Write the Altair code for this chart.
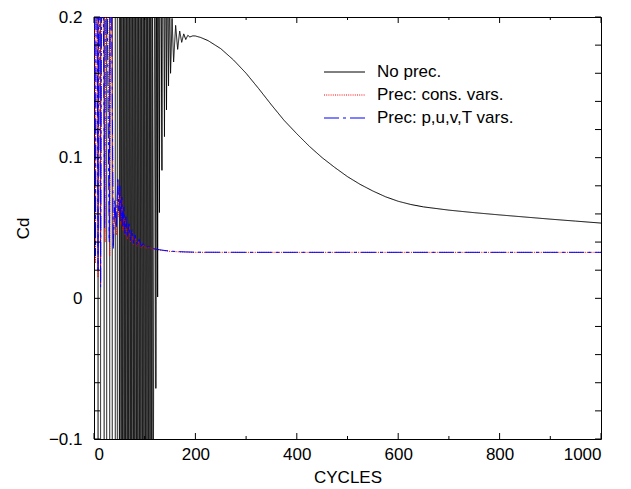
import altair as alt
import pandas as pd

# ---------------- data ----------------
x_domain = [0, 1000]
y_domain = [-0.1, 0.2]
x_major = [0, 200, 400, 600, 800, 1000]
x_minor = [100, 300, 500, 700, 900]
y_labels = [-0.1, 0.0, 0.1, 0.2]
y_ticks = [-0.1, -0.08, -0.06, -0.04, -0.02, 0.0, 0.02, 0.04, 0.06, 0.08,
           0.1, 0.12, 0.14, 0.16, 0.18, 0.2]
series_names = ["No prec.", "Prec: cons. vars.", "Prec: p,u,v,T vars."]

black_cycle = [0, 8, 8, 13, 13, 20, 20, 25, 25, 31, 31, 36, 36, 42, 42, 46, 46, 50, 50,
               52, 53.5, 55, 56.5, 58, 59.5, 61, 62.5, 64, 65.5, 67, 68.5, 70, 71.5, 73,
               74.5, 76, 77.5, 79, 80.5, 82, 83.5, 85, 86.5, 88, 89.5, 91, 92.5, 94, 95.5,
               97, 98.5, 100, 101.5, 103, 104.5, 106, 107.5, 109, 110.5, 112, 113.5, 115,
               116.5,
               120, 122, 124, 125.5, 127, 129, 131, 134, 136, 139, 141, 143, 145, 147,
               149, 151, 154, 157, 161, 165, 169, 173, 177, 181, 185, 189,
               195, 200, 210, 225, 250, 275, 300, 325, 350, 375, 400, 425, 450, 475,
               500, 525, 550, 575, 600, 625, 650, 700, 750, 800, 850, 900, 950, 1000]
black_cd = [0.35, 0.35, -0.25, -0.25, 0.35, 0.35, -0.25, -0.25, 0.35, 0.35, -0.25, -0.25,
            0.35, 0.35, -0.25, -0.25, 0.35, 0.35, -0.25,
            0.35, -0.25, 0.35, -0.25, 0.35, -0.25, 0.35, -0.25, 0.35, -0.25, 0.35, -0.25,
            0.35, -0.25, 0.35, -0.25, 0.35, -0.25, 0.35, -0.25, 0.35, -0.25, 0.35, -0.25,
            0.35, -0.25, 0.35, -0.25, 0.35, -0.25, 0.35, -0.25, 0.35, -0.25, 0.35, -0.25,
            0.35, -0.25, 0.35, -0.25, 0.35, -0.25, 0.35, -0.25,
            0.35, -0.064, 0.35, 0.001, 0.35, 0.061, 0.35, 0.091, 0.35, 0.115, 0.3, 0.134,
            0.26, 0.151, 0.22, 0.16, 0.199, 0.168, 0.194, 0.177, 0.19, 0.182, 0.188, 0.184,
            0.187, 0.1858,
            0.1866, 0.1865, 0.1855, 0.1832, 0.1775, 0.1695, 0.160, 0.149, 0.1375, 0.1265,
            0.117, 0.108, 0.100, 0.093, 0.0865, 0.081, 0.0763, 0.0722, 0.0690, 0.0667,
            0.0650, 0.0627, 0.0609, 0.0593, 0.0578, 0.0563, 0.0549, 0.0535]

red_cycle = [0, 3, 5, 8, 10, 13, 17, 22, 24, 31, 34, 38, 41, 44, 47, 49, 51, 53, 55, 57,
             59, 61, 63, 66, 69, 72, 75, 78, 81, 85, 89, 93, 97, 102, 108, 115, 122, 130,
             140, 150, 165, 180, 200, 300, 400, 500, 600, 700, 800, 900, 1000]
red_cd = [0.35, 0.025, 0.35, 0.015, 0.35, 0.01, 0.35, 0.04, 0.35, 0.03, 0.3, 0.04, 0.065,
          0.045, 0.084, 0.058, 0.077, 0.052, 0.07, 0.048, 0.062, 0.045, 0.056, 0.042, 0.051,
          0.04, 0.047, 0.038, 0.044, 0.037, 0.041, 0.036, 0.038, 0.0355, 0.0365, 0.035,
          0.0348, 0.0343, 0.0338, 0.0334, 0.0331, 0.0329, 0.0327, 0.0327, 0.0327, 0.0327,
          0.0327, 0.0327, 0.0327, 0.0327, 0.0327]

blue_cycle = [0, 3, 5, 8, 10, 13, 16, 21, 23, 30, 33, 38, 41, 44, 47, 49, 51, 53, 55, 57,
              59, 61, 63, 66, 69, 72, 75, 78, 81, 85, 89, 93, 97, 102, 108, 115, 122, 130,
              140, 150, 165, 180, 200, 300, 400, 500, 600, 700, 800, 900, 1000]
blue_cd = [0.35, 0.03, 0.35, 0.02, 0.35, 0.008, 0.35, 0.05, 0.35, 0.04, 0.3, 0.035, 0.07,
           0.05, 0.086, 0.062, 0.08, 0.055, 0.072, 0.05, 0.065, 0.046, 0.058, 0.043, 0.053,
           0.041, 0.049, 0.039, 0.045, 0.038, 0.042, 0.037, 0.039, 0.036, 0.037, 0.0355,
           0.035, 0.0345, 0.034, 0.0336, 0.0332, 0.033, 0.0328, 0.0327, 0.0327, 0.0327,
           0.0327, 0.0327, 0.0327, 0.0327, 0.0327]

assert len(black_cycle) == len(black_cd)
assert len(red_cycle) == len(red_cd)
assert len(blue_cycle) == len(blue_cd)

rows = []
for name, xs, ys in zip(series_names, [black_cycle, red_cycle, blue_cycle],
                        [black_cd, red_cd, blue_cd]):
    for i, (x, y) in enumerate(zip(xs, ys)):
        rows.append({"series": name, "cycle": x, "cd": y, "i": i})
df = pd.DataFrame(rows)

# ---------------- chart ----------------
FONT = "Liberation Sans"
FS = 17
xscale = alt.Scale(domain=x_domain, nice=False, zero=False)
yscale = alt.Scale(domain=y_domain, nice=False, zero=False)

x_axis = alt.Axis(orient="bottom", values=x_major, format="d", ticks=False,
                  tickSize=0, domain=False, grid=False, labelPadding=7,
                  title="CYCLES", titleX=253.5, titleY=43,
                  titleBaseline="alphabetic", titleAlign="center")
y_axis = alt.Axis(orient="left", values=y_labels, format="~g", ticks=False,
                  tickSize=0, domain=False, grid=False, labelPadding=12,
                  title="Cd", titleX=-66, titleY=211, titleAngle=270,
                  titleBaseline="alphabetic", titleAlign="center")

leg = alt.Legend(title=None, orient="none", legendX=236.5, legendY=41,
                 symbolType="M-1.5185,0L1.5185,0", symbolSize=729, symbolStrokeWidth=1,
                 labelFont=FONT, labelFontSize=FS, labelColor="black",
                 labelOffset=18.5, rowPadding=1)

lines = alt.Chart(df).mark_line(clip=True, strokeWidth=1).encode(
    x=alt.X("cycle:Q", scale=xscale, axis=x_axis),
    y=alt.Y("cd:Q", scale=yscale, axis=y_axis),
    color=alt.Color("series:N",
                    scale=alt.Scale(domain=series_names, range=["black", "red", "blue"]),
                    legend=leg),
    strokeDash=alt.StrokeDash("series:N",
                              scale=alt.Scale(domain=series_names,
                                              range=[[1, 0], [1, 1.2], [15, 4, 3, 4]]),
                              legend=leg),
    order=alt.Order("i:Q"),
)

MAJ = 6
MIN = 3


def x_ticks(values, edge, inner):
    return alt.Chart(pd.DataFrame({"cycle": values})).mark_rule(
        color="black", strokeWidth=1).encode(
        x=alt.X("cycle:Q", scale=xscale, axis=x_axis),
        y=alt.value(edge), y2=alt.value(inner))


def y_ticks_layer(values, edge, inner):
    return alt.Chart(pd.DataFrame({"cd": values})).mark_rule(
        color="black", strokeWidth=1).encode(
        y=alt.Y("cd:Q", scale=yscale, axis=y_axis),
        x=alt.value(edge), x2=alt.value(inner))


ticks = [
    x_ticks(x_major, "height", {"expr": f"height - {MAJ}"}),
    x_ticks(x_minor, "height", {"expr": f"height - {MIN}"}),
    x_ticks(x_major, 0, MAJ),
    x_ticks(x_minor, 0, MIN),
    y_ticks_layer(y_ticks, 0, MAJ),
    y_ticks_layer(y_ticks, "width", {"expr": f"width - {MAJ}"}),
]

chart = (
    alt.layer(lines, *ticks)
    .properties(width=507, height=422,
                padding={"left": 86, "top": 9, "right": 22, "bottom": 48},
                autosize=alt.AutoSizeParams(type="none"))
    .configure_view(stroke="black", strokeWidth=1)
    .configure_axis(labelFont=FONT, labelFontSize=FS, labelColor="black",
                    titleFont=FONT, titleFontSize=FS, titleColor="black",
                    titleFontWeight="normal")
)

chart.save("out.html", embed_options={"renderer": "svg", "actions": False})
